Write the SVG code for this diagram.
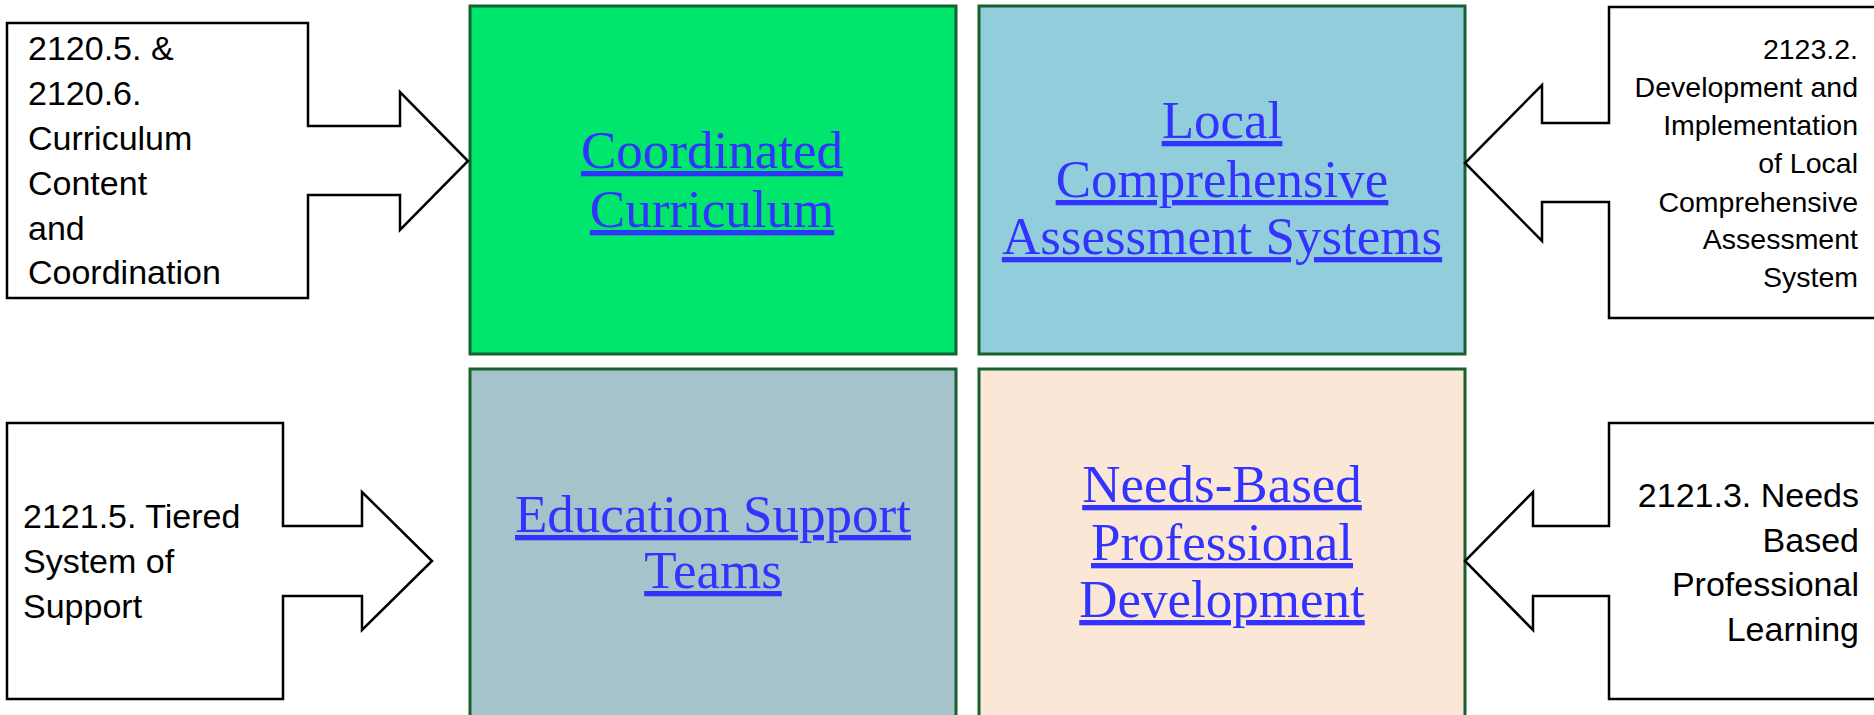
<svg xmlns="http://www.w3.org/2000/svg" width="1874" height="715" viewBox="0 0 1874 715">
<style>
.box{stroke:#16612f;stroke-width:3}
.call{fill:#fff;stroke:#000;stroke-width:2.5;stroke-linejoin:miter}
.link{font-family:"Liberation Serif","Times New Roman",serif;font-size:53px;fill:#3333ff;text-anchor:middle;text-decoration:underline}
.lbl{font-family:"Liberation Sans",Arial,sans-serif;font-size:34px;fill:#000}
.sm{font-size:28.5px}
.r{text-anchor:end}
</style>
<rect width="1874" height="715" fill="#fff"/>
<g id="connectors"></g>
<g id="node-coordinated">
<rect class="box" x="470" y="6" width="486" height="348" fill="#00e56b"/>
<text class="link"><tspan x="712" y="168">Coordinated</tspan><tspan x="712" y="227">Curriculum</tspan></text>
</g>
<g id="node-local">
<rect class="box" x="979" y="6" width="486" height="348" fill="#92cddc"/>
<text class="link"><tspan x="1222" y="138">Local</tspan><tspan x="1222" y="197">Comprehensive</tspan><tspan x="1222" y="254">Assessment Systems</tspan></text>
</g>
<g id="node-education">
<rect class="box" x="470" y="369" width="486" height="360" fill="#a5c3ca"/>
<text class="link"><tspan x="713" y="532">Education Support</tspan><tspan x="713" y="588">Teams</tspan></text>
</g>
<g id="node-needs">
<rect class="box" x="979" y="369" width="486" height="360" fill="#fbe7d5"/>
<text class="link"><tspan x="1222" y="502">Needs-Based</tspan><tspan x="1222" y="560">Professional</tspan><tspan x="1222" y="617">Development</tspan></text>
</g>
<g id="node-2120">
<path class="call" d="M7,23 H308 V126 H400 V92 L468,161 L400,230 V195 H308 V298 H7 Z"/>
<text class="lbl"><tspan x="28" y="60">2120.5. &amp;</tspan><tspan x="28" y="105">2120.6.</tspan><tspan x="28" y="150">Curriculum</tspan><tspan x="28" y="195">Content</tspan><tspan x="28" y="240">and</tspan><tspan x="28" y="284">Coordination</tspan></text>
</g>
<g id="node-2123">
<path class="call" d="M1880,7 H1609 V123 H1542 V85 L1465,163 L1542,241 V202 H1609 V318 H1880"/>
<text class="lbl sm r"><tspan x="1858" y="59">2123.2.</tspan><tspan x="1858" y="97">Development and</tspan><tspan x="1858" y="135">Implementation</tspan><tspan x="1858" y="173">of Local</tspan><tspan x="1858" y="212">Comprehensive</tspan><tspan x="1858" y="249">Assessment</tspan><tspan x="1858" y="287">System</tspan></text>
</g>
<g id="node-2121-5">
<path class="call" d="M7,423 H283 V526 H362 V492 L432,561 L362,630 V596 H283 V699 H7 Z"/>
<text class="lbl"><tspan x="23" y="528">2121.5. Tiered</tspan><tspan x="23" y="573">System of</tspan><tspan x="23" y="618">Support</tspan></text>
</g>
<g id="node-2121-3">
<path class="call" d="M1880,423 H1609 V526 H1533 V492 L1465,561 L1533,630 V596 H1609 V699 H1880"/>
<text class="lbl r"><tspan x="1859" y="507">2121.3. Needs</tspan><tspan x="1859" y="552">Based</tspan><tspan x="1859" y="596">Professional</tspan><tspan x="1859" y="641">Learning</tspan></text>
</g>
</svg>
